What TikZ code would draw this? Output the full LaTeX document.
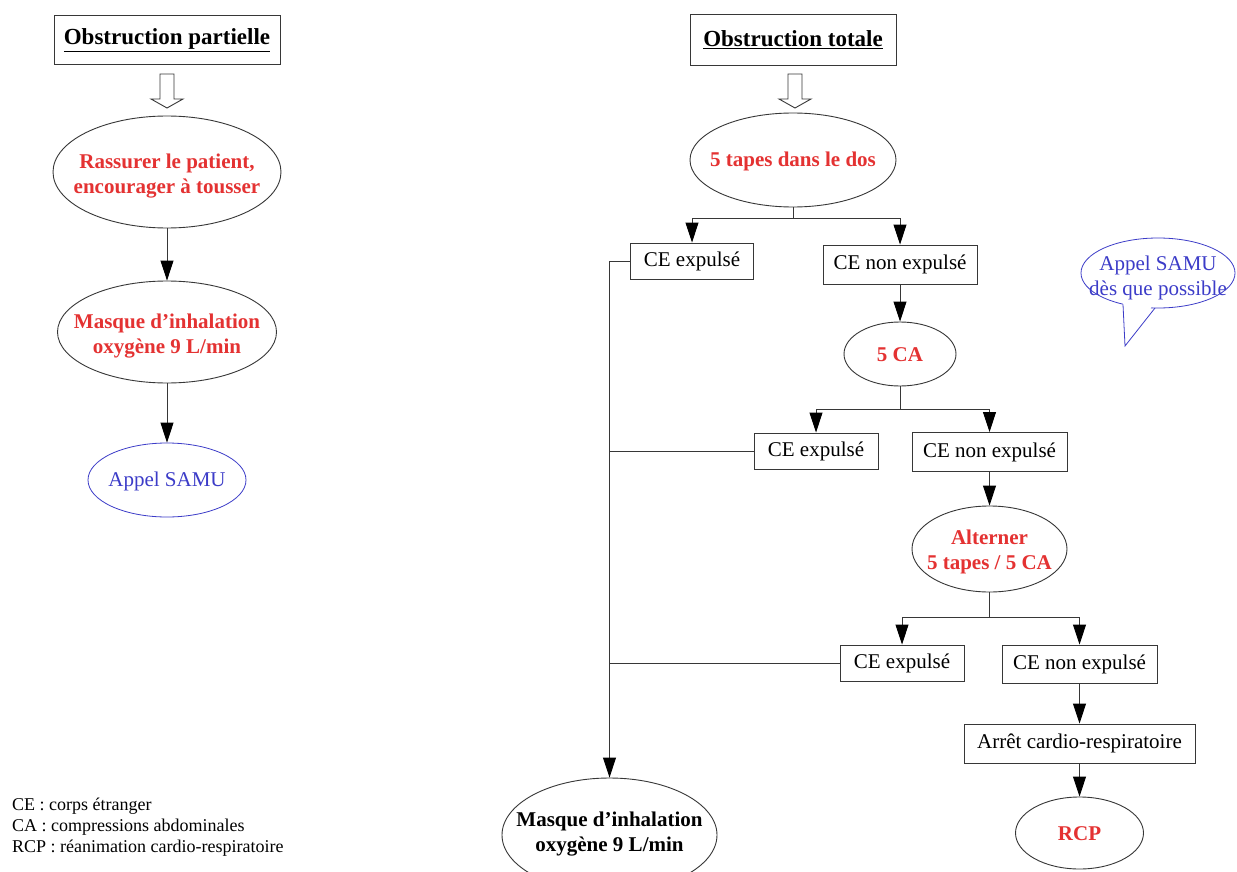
\documentclass[tikz,border=0pt]{standalone}
\usepackage{fontspec}
\setmainfont{Liberation Serif}
\usetikzlibrary{shapes.geometric,arrows.meta,calc}
\definecolor{myred}{RGB}{228,50,50}
\definecolor{myblue}{RGB}{60,60,200}
\definecolor{lin}{RGB}{55,55,55}
\begin{document}
\begin{tikzpicture}[x=1pt,y=-1pt,
 txt/.style={font=\fontsize{21}{25}\selectfont},
 box/.style={draw=lin, line width=0.9pt, rectangle, inner sep=0pt, txt, align=center},
 oval/.style={draw=lin, line width=0.9pt, ellipse, inner sep=0pt},
 redt/.style={text=myred, font=\fontsize{21}{25}\selectfont\bfseries, align=center},
 headbox/.style={box, font=\fontsize{23}{27}\selectfont\bfseries},
 arr/.style={draw=lin, line width=0.9pt, -{Triangle[length=20pt,width=13pt,color=black]}},
 ln/.style={draw=lin, line width=0.9pt},
 hollow/.pic={\draw[lin, line width=0.9pt, fill=white] (-7,0) -- (7,0) -- (7,25) -- (16,25) -- (0,34) -- (-16,25) -- (-7,25) -- cycle;}
]
\useasboundingbox (0,0) rectangle (1237,872);
\clip (0,0) rectangle (1237,872);
\fill[white] (0,0) rectangle (1237,872);

% ---------- left column ----------
\node[headbox, minimum width=226, minimum height=49] (h1) at (167,40) {\underline{Obstruction partielle}};
\pic at (167,74) {hollow};
\node[oval, minimum width=228, minimum height=112] (e1) at (167,172) {};
\node[redt] (e1t) at (167,176) {Rassurer le patient,\\encourager à tousser};
\node[oval, minimum width=219, minimum height=102] (e2) at (167,332) {};
\node[redt] (e2t) at (167,336) {Masque d’inhalation\\oxygène 9 L/min};
\node[draw=myblue, line width=0.8pt, ellipse, inner sep=0pt, minimum width=158, minimum height=74] (samu) at (167,480) {};
\node[txt, text=myblue] (samut) at (167,481) {Appel SAMU};
\draw[arr] (e1.south) -- (e2.north);
\draw[arr] (e2.south) -- (samu.north);

% ---------- right column ----------
\node[headbox, minimum width=206, minimum height=51] (h2) at (793,40) {\underline{Obstruction totale}};
\pic at (795,74) {hollow};
\node[oval, minimum width=206, minimum height=94] (t1) at (793,160) {};
\node[redt] (t1t) at (793,161) {5 tapes dans le dos};

\node[box, minimum width=123, minimum height=36] (ceA1) at (692,261) {CE expulsé};
\node[box, minimum width=154, minimum height=39] (ceB1) at (900,264.5) {CE non expulsé};
\node[oval, minimum width=112, minimum height=64] (ca5) at (900,354) {};
\node[redt] (ca5t) at (900,355) {5 CA};

\node[box, minimum width=124, minimum height=36] (ceA2) at (816,451) {CE expulsé};
\node[box, minimum width=155, minimum height=39] (ceB2) at (989.5,452) {CE non expulsé};
\node[oval, minimum width=155, minimum height=86] (alt) at (989.5,549) {};
\node[redt] (altt) at (989.5,552) {Alterner\\5 tapes / 5 CA};

\node[box, minimum width=124, minimum height=36] (ceA3) at (902,663) {CE expulsé};
\node[box, minimum width=155, minimum height=38] (ceB3) at (1079.5,664) {CE non expulsé};
\node[box, minimum width=231, minimum height=39] (arret) at (1079.5,743.5) {Arrêt cardio-respiratoire};
\node[oval, minimum width=128, minimum height=72] (rcp) at (1079.5,833) {};
\node[redt] (rcpt) at (1079.5,834) {RCP};

\node[oval, minimum width=215, minimum height=114] (mask2) at (609.5,835) {};
\node[font=\fontsize{21}{25}\selectfont\bfseries, align=center] (mask2t) at (609.5,834) {Masque d’inhalation\\oxygène 9 L/min};

% forks
\coordinate (j1) at ($(t1.south)+(0,11)$);
\draw[ln] (t1.south) -- (j1);
\draw[arr] (j1) -| (ceA1.north);
\draw[arr] (j1) -| (ceB1.north);
\draw[arr] (ceB1.south) -- (ca5.north);

\coordinate (j2) at ($(ca5.south)+(0,23)$);
\draw[ln] (ca5.south) -- (j2);
\draw[arr] (j2) -| (ceA2.north);
\draw[arr] (j2) -| (ceB2.north);
\draw[arr] (ceB2.south) -- (alt.north);

\coordinate (j3) at ($(alt.south)+(0,25)$);
\draw[ln] (alt.south) -- (j3);
\draw[arr] (j3) -| (ceA3.north);
\draw[arr] (j3) -| (ceB3.north);
\draw[arr] (ceB3.south) -- (arret.north);
\draw[arr] (arret.south) -- (rcp.north);

% collector
\draw[arr] (ceA1.west) -| (mask2.north);
\draw[ln] (ceA2.west) -- (ceA2.west -| mask2.north);
\draw[ln] (ceA3.west) -- (ceA3.west -| mask2.north);

% ---------- speech bubble ----------
\node[draw=myblue, line width=0.8pt, ellipse, inner sep=0pt, minimum width=154, minimum height=70] (bub) at (1158,273) {};
\coordinate (tfl) at (1123,300);
\coordinate (tfr) at (1155,302);
\coordinate (tbl) at (1123,304.5);
\coordinate (tbr) at (1155,308);
\coordinate (tip) at (1125,346);
\fill[white] (tfl) -- (tip) -- (tfr) -- cycle;
\draw[myblue, line width=0.8pt, line join=miter] (tbl) -- (tip) -- (tbr);
\node[txt, text=myblue, align=center] (bubt) at (1158,278) {Appel SAMU\\dès que possible};

% ---------- legend ----------
\node[anchor=west, align=left, inner sep=0pt, font=\fontsize{18}{21}\selectfont] (leg) at (12,827) {CE : corps étranger\\CA : compressions abdominales\\RCP : réanimation cardio-respiratoire};
\end{tikzpicture}
\end{document}
